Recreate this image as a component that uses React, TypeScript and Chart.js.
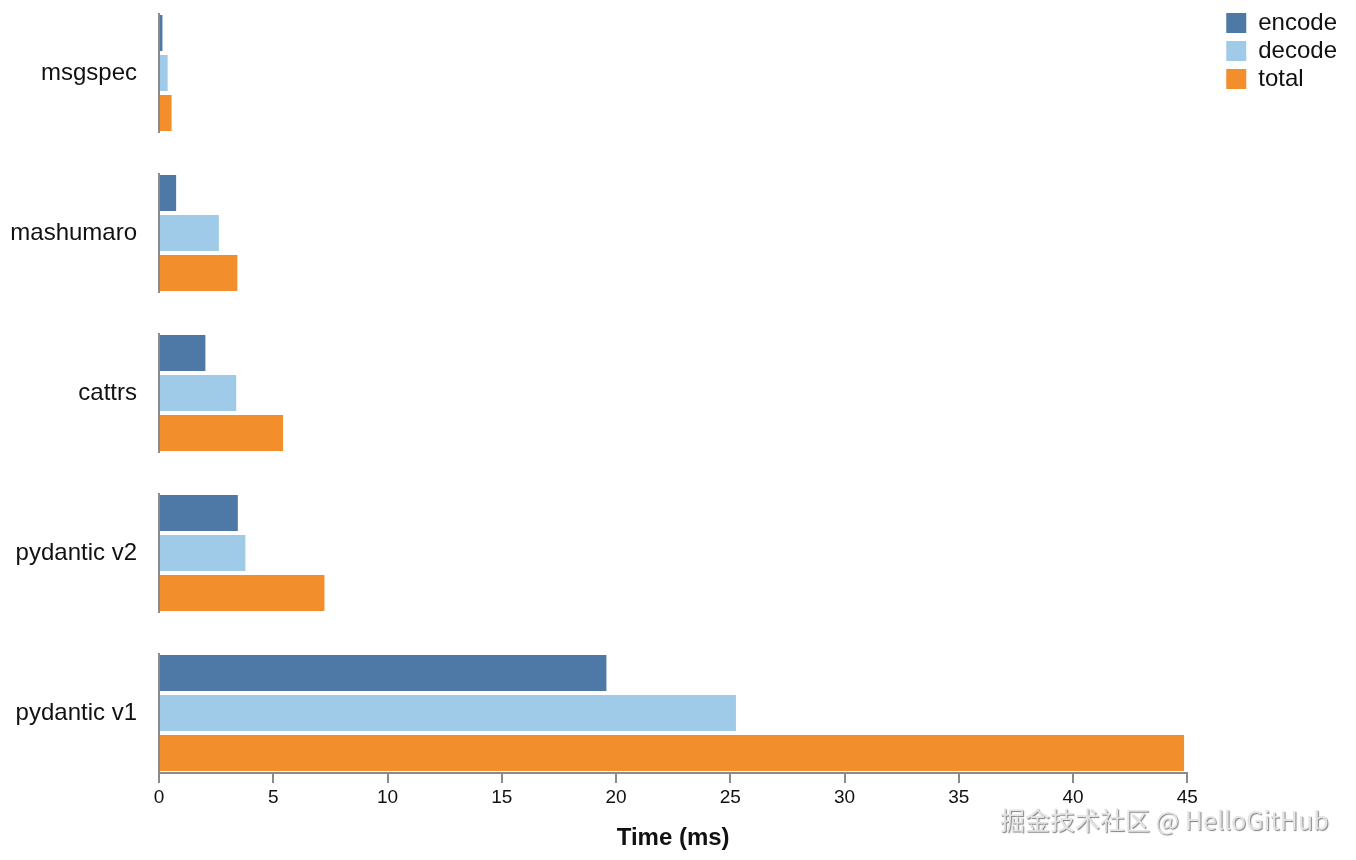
import React, { useEffect, useRef } from "react";
import { Chart, registerables } from "chart.js";

Chart.register(...registerables);

const categories = ["msgspec", "mashumaro", "cattrs", "pydantic v2", "pydantic v1"];
const encodeMs = [0.15, 0.75, 2.03, 3.45, 19.58];
const decodeMs = [0.38, 2.62, 3.38, 3.78, 25.25];
const totalMs = [0.55, 3.43, 5.43, 7.24, 44.86];
const seriesNames = ["encode", "decode", "total"];
const seriesColors = ["#4e79a7", "#a0cbe8", "#f28e2b"];
const xTickMax = 45;
const xTickStep = 5;
const axisTitle = "Time (ms)";
const watermark = "掘金技术社区 @ HelloGitHub";

const CAT_PCT = 0.75;
const FONT = "'Liberation Sans', Arial, Helvetica, sans-serif";
const AXIS_GRAY = "#8a8a8a";

const groupLines = {
  id: "groupLines",
  beforeDatasetsDraw(chart: any) {
    const y = chart.scales.y;
    const x = chart.scales.x;
    const ctx = chart.ctx;
    const x0 = x.getPixelForValue(0);
    ctx.save();
    ctx.strokeStyle = AXIS_GRAY;
    ctx.lineWidth = 2;
    categories.forEach((_, i) => {
      const top = y.getPixelForValue(i - CAT_PCT / 2);
      const bot = y.getPixelForValue(i + CAT_PCT / 2);
      ctx.beginPath();
      ctx.moveTo(x0, top);
      ctx.lineTo(x0, bot);
      ctx.stroke();
    });
    ctx.restore();
  },
};

export default function App() {
  const ref = useRef<HTMLCanvasElement | null>(null);

  useEffect(() => {
    if (!ref.current) return;
    Chart.defaults.font.family = FONT;
    const series = [encodeMs, decodeMs, totalMs];
    const chart = new Chart(ref.current, {
      type: "bar",
      data: {
        datasets: series.map((vals, si) => ({
          label: seriesNames[si],
          data: vals.map((v, i) => ({ x: v, y: i })),
          backgroundColor: seriesColors[si],
          borderWidth: 0,
          categoryPercentage: CAT_PCT,
          barPercentage: 0.9,
        })),
      },
      options: {
        indexAxis: "y",
        animation: false,
        responsive: true,
        maintainAspectRatio: false,
        layout: { padding: { top: 7, right: 9, bottom: 0, left: 0 } },
        plugins: {
          tooltip: { enabled: false },
          legend: {
            position: "right",
            align: "start",
            labels: {
              boxWidth: 20,
              boxHeight: 20,
              padding: 4,
              color: "#111",
              font: { size: 24, family: FONT },
            },
          },
        },
        scales: {
          x: {
            type: "linear",
            position: "bottom",
            min: 0,
            max: xTickMax,
            ticks: {
              stepSize: xTickStep,
              color: "#111",
              padding: 3,
              font: { size: 19, family: FONT },
              maxRotation: 0,
            },
            grid: {
              drawOnChartArea: false,
              drawTicks: true,
              tickLength: 10,
              color: AXIS_GRAY,
              lineWidth: 2,
            },
            border: { display: true, color: AXIS_GRAY, width: 2 },
            title: {
              display: true,
              text: axisTitle,
              color: "#111",
              font: { size: 24, weight: "bold", family: FONT },
              padding: { top: 0, bottom: 7 },
            },
            afterFit: (s: any) => {
              s.height = 87;
            },
          },
          y: {
            type: "linear",
            reverse: true,
            offset: false,
            min: -CAT_PCT / 2,
            max: categories.length - 1 + CAT_PCT / 2,
            afterBuildTicks: (s: any) => {
              s.ticks = categories.map((_, i) => ({ value: i }));
            },
            ticks: {
              callback: (v: any) => categories[v as number] ?? "",
              color: "#111",
              padding: 22,
              font: { size: 24, family: FONT },
            },
            grid: { display: false, drawTicks: false, offset: false },
            border: { display: false },
            afterFit: (s: any) => {
              s.width = 159;
              s.paddingTop = 13;
              s.paddingBottom = 0;
            },
          },
          pad: {
            type: "linear",
            position: "right",
            display: true,
            grid: { display: false, drawTicks: false },
            border: { display: false },
            ticks: { display: false },
            afterFit: (s: any) => {
              s.width = 35;
            },
          },
        },
      },
      plugins: [groupLines],
    } as any);
    return () => chart.destroy();
  }, []);

  return (
    <div
      style={{
        position: "fixed",
        left: 0,
        top: 0,
        width: 1356,
        height: 860,
        background: "#fff",
      }}
    >
      <canvas ref={ref} />
      <div
        style={{
          position: "absolute",
          left: 1000,
          top: 805,
          fontFamily: "'Noto Sans CJK SC', 'Liberation Sans', sans-serif",
          fontSize: 25,
          lineHeight: "28px",
          whiteSpace: "nowrap",
          color: "#e4e4e4",
          textShadow: "1px 1px 1px #808080",
        }}
      >
        {watermark}
      </div>
    </div>
  );
}
